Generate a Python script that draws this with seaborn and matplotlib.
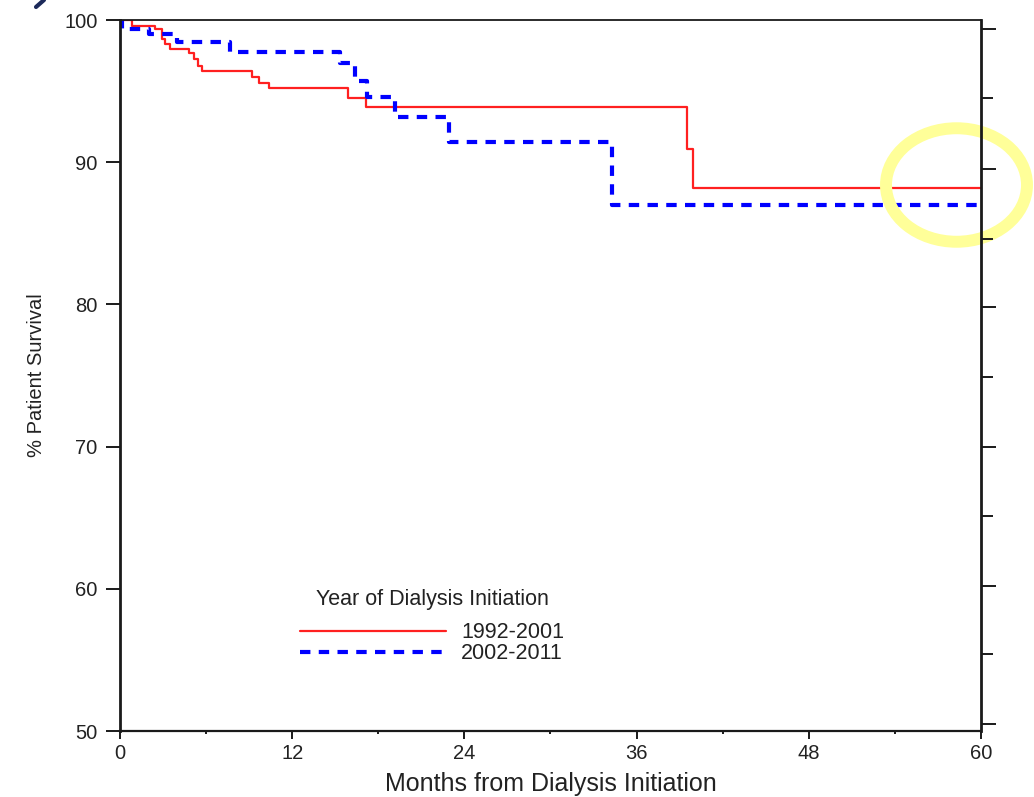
import numpy as np
import pandas as pd
import matplotlib
matplotlib.use("Agg")
import matplotlib.pyplot as plt
import seaborn as sns
from matplotlib.patches import Ellipse
from matplotlib.lines import Line2D

# Kaplan-Meier style step data (months, % survival)
red_months = [0, 0.84, 2.46, 2.93, 3.16, 3.5, 4.8, 5.13, 5.43, 5.7, 9.2, 9.66,
              10.36, 15.9, 17.15, 39.5, 39.95, 60]
red_surv = [100, 99.6, 99.37, 98.66, 98.3, 97.96, 97.66, 97.26, 96.8, 96.4,
            95.97, 95.6, 95.2, 94.5, 93.85, 90.9, 88.2, 88.2]
blue_months = [0, 0.15, 2.0, 3.97, 7.7, 15.3, 16.4, 17.2, 19.2, 22.9, 34.27, 60]
blue_surv = [100, 99.37, 99.0, 98.43, 97.73, 96.95, 95.7, 94.6, 93.2, 91.45,
             87.0, 87.0]
groups = ["1992-2001", "2002-2011"]

x_ticks = [0, 12, 24, 36, 48, 60]
x_minor = [6, 18, 30, 42, 54]
y_ticks = [50, 60, 70, 80, 90, 100]
right_major = [99.4, 89.5, 79.8, 70.0, 60.2, 50.5]
right_minor = [94.5, 84.6, 74.9, 65.1, 55.4]

df = pd.concat([
    pd.DataFrame({"month": red_months, "surv": red_surv, "group": groups[0]}),
    pd.DataFrame({"month": blue_months, "surv": blue_surv, "group": groups[1]}),
], ignore_index=True)

sns.set_theme(style="white")
plt.rcParams["font.family"] = ["Liberation Sans", "DejaVu Sans"]
txt = "#222222"

fig = plt.figure(figsize=(10.34, 7.97), dpi=100)
ax = fig.add_axes([0.116, 0.0828, 0.8327, 0.8921])

sns.lineplot(data=df, x="month", y="surv", hue="group", style="group",
             size="group",
             palette={groups[0]: "#ff2020", groups[1]: "#0000ff"},
             dashes={groups[0]: "", groups[1]: (2.5, 2)},
             sizes={groups[0]: 1.6, groups[1]: 3.0},
             drawstyle="steps-post", estimator=None, sort=False, ax=ax)

ax.set_xlim(0, 60)
ax.set_ylim(50, 100)
ax.set_xticks(x_ticks)
ax.set_xticks(x_minor, minor=True)
ax.set_yticks(y_ticks)
ax.tick_params(axis="x", which="major", direction="out", length=6, width=1.4,
               colors="#1a1a1a", labelcolor=txt, labelsize=14.5, pad=3, bottom=True)
ax.tick_params(axis="x", which="minor", direction="out", length=2, width=1.4,
               colors="#1a1a1a", bottom=True)
ax.tick_params(axis="y", which="major", direction="out", length=10, width=1.4,
               colors="#1a1a1a", labelcolor=txt, labelsize=14.5, pad=6, left=True)
ax.set_xlabel("Months from Dialysis Initiation", fontsize=18, color=txt, labelpad=7)
ax.set_ylabel("% Patient Survival", fontsize=14.5, color=txt, labelpad=13)

for side, lw in [("left", 2.0), ("bottom", 1.6), ("top", 1.3)]:
    ax.spines[side].set_color("#1a1a1a")
    ax.spines[side].set_linewidth(lw)
ax.spines["right"].set_visible(False)

# right-hand axis with unlabeled ticks
ax2 = ax.twinx()
ax2.set_ylim(50, 100)
ax2.set_yticks(right_major)
ax2.set_yticks(right_minor, minor=True)
ax2.set_yticklabels([])
ax2.tick_params(axis="y", which="major", direction="out", length=11, width=1.4,
                colors="#1a1a1a", right=True)
ax2.tick_params(axis="y", which="minor", direction="out", length=8.5, width=1.4,
                colors="#1a1a1a", right=True)
for side in ["left", "top", "bottom"]:
    ax2.spines[side].set_visible(False)
ax2.spines["right"].set_color("#1a1a1a")
ax2.spines["right"].set_linewidth(2.0)
ax2.grid(False)

sns.move_legend(ax, "upper left", bbox_to_anchor=(0.209, 0.2),
                title="Year of Dialysis Initiation", frameon=False,
                handlelength=6.8, handletextpad=0.7, labelspacing=0.0,
                borderaxespad=0, borderpad=0, fontsize=15.5, title_fontsize=15.5)
leg = ax.get_legend()
leg.get_title().set_color(txt)
for t in leg.get_texts():
    t.set_color(txt)
leg._legend_box.sep = 9

# yellow highlight ring around the line ends
ring = Ellipse((956.5 / 1034, 1 - 185 / 797), 141 / 1034, 113.5 / 797,
               transform=fig.transFigure, fill=False, edgecolor="#ffff99",
               linewidth=8.6, clip_on=False, zorder=2.3)
ax.add_patch(ring)

# cropped remnant stroke at the very top-left
fig.add_artist(Line2D([36 / 1034, 44 / 1034], [1 - 7 / 797, 1.0],
                      transform=fig.transFigure, color="#1c2a5a", lw=3.0))

fig.savefig("out.png", dpi=100)
